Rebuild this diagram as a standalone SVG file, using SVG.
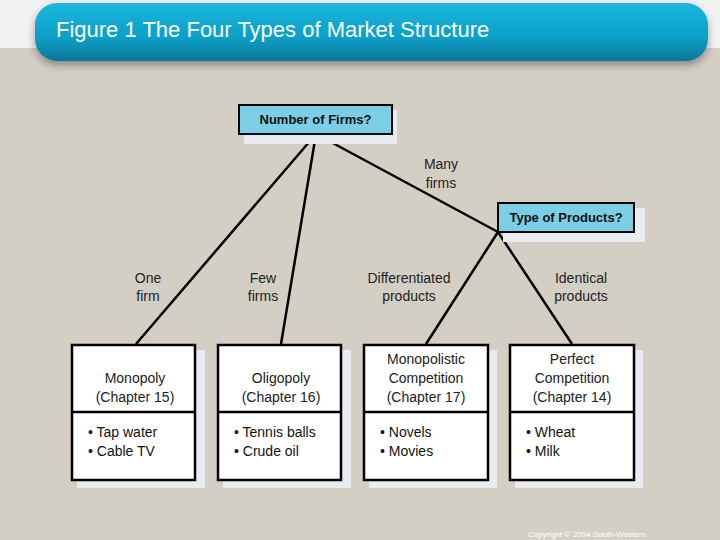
<svg xmlns="http://www.w3.org/2000/svg" width="720" height="540" viewBox="0 0 720 540">
<defs>
<linearGradient id="tg" x1="0" y1="0" x2="0" y2="1"><stop offset="0" stop-color="#1cb6de"/><stop offset="0.6" stop-color="#0a9fc6"/><stop offset="1" stop-color="#06779a"/></linearGradient>
<filter id="sh" x="-5%" y="-20%" width="110%" height="160%"><feDropShadow dx="0" dy="4" stdDeviation="4" flood-color="#000" flood-opacity="0.35"/></filter>
</defs>
<style>
.lbl{font-family:"Liberation Sans",Arial,sans-serif;font-size:14px;fill:#222;text-anchor:middle}
.it{font-family:"Liberation Sans",Arial,sans-serif;font-size:14px;fill:#111}
.q{font-family:"Liberation Sans",Arial,sans-serif;font-size:13px;font-weight:bold;fill:#111;text-anchor:middle}
.box{fill:#fff;stroke:#000;stroke-width:2.5}
.shd{fill:#e9ebf1}
.qb{fill:#7ccde6;stroke:#000;stroke-width:2}
.ln{stroke:#000;stroke-width:2.5;fill:none}
</style>
<rect width="720" height="540" fill="#d4cfc5"/>
<rect width="720" height="48" fill="#f2f2f2"/>
<rect x="35" y="3" width="673" height="58" rx="22" fill="url(#tg)" filter="url(#sh)"/>
<text x="56" y="37" font-family="Liberation Sans,Arial,sans-serif" font-size="22" fill="#fff">Figure 1 The Four Types of Market Structure</text>
<g id="connectors">
<path class="ln" d="M316 134 L136 344 M316 134 L281 344 M316 134 L498 232 M498 232 L426 344 M498 232 L572 344"/>
</g>
<g id="q1"><rect x="244" y="110" width="153" height="34" class="shd"/><rect x="239" y="105" width="153" height="29" class="qb"/><text x="315.5" y="124" class="q">Number of Firms?</text></g>
<g id="q2"><rect x="503" y="208" width="142" height="34" class="shd"/><rect x="498" y="203" width="136" height="29" class="qb"/><text x="566" y="222" class="q">Type of Products?</text></g>
<g id="labels">
<text class="lbl" x="441" y="169">Many</text><text class="lbl" x="441" y="188">firms</text>
<text class="lbl" x="148" y="283">One</text><text class="lbl" x="148" y="301">firm</text>
<text class="lbl" x="263" y="283">Few</text><text class="lbl" x="263" y="301">firms</text>
<text class="lbl" x="409" y="283">Differentiated</text><text class="lbl" x="409" y="301">products</text>
<text class="lbl" x="581" y="283">Identical</text><text class="lbl" x="581" y="301">products</text>
</g>
<g id="monopoly"><rect x="77" y="350" width="128" height="138" class="shd"/><rect x="72" y="345" width="123" height="135" class="box"/><line x1="72" y1="412" x2="195" y2="412" class="ln"/>
<text class="lbl" x="135" y="383">Monopoly</text><text class="lbl" x="135" y="402">(Chapter 15)</text>
<text class="it" x="88" y="437">• Tap water</text><text class="it" x="88" y="456">• Cable TV</text></g>
<g id="oligopoly"><rect x="223" y="350" width="128" height="138" class="shd"/><rect x="218" y="345" width="123" height="135" class="box"/><line x1="218" y1="412" x2="341" y2="412" class="ln"/>
<text class="lbl" x="281" y="383">Oligopoly</text><text class="lbl" x="281" y="402">(Chapter 16)</text>
<text class="it" x="234" y="437">• Tennis balls</text><text class="it" x="234" y="456">• Crude oil</text></g>
<g id="monopolistic"><rect x="369" y="350" width="128" height="138" class="shd"/><rect x="364" y="345" width="124" height="135" class="box"/><line x1="364" y1="412" x2="488" y2="412" class="ln"/>
<text class="lbl" x="426" y="364">Monopolistic</text><text class="lbl" x="426" y="383">Competition</text><text class="lbl" x="426" y="402">(Chapter 17)</text>
<text class="it" x="380" y="437">• Novels</text><text class="it" x="380" y="456">• Movies</text></g>
<g id="perfect"><rect x="515" y="350" width="128" height="138" class="shd"/><rect x="510" y="345" width="124" height="135" class="box"/><line x1="510" y1="412" x2="634" y2="412" class="ln"/>
<text class="lbl" x="572" y="364">Perfect</text><text class="lbl" x="572" y="383">Competition</text><text class="lbl" x="572" y="402">(Chapter 14)</text>
<text class="it" x="526" y="437">• Wheat</text><text class="it" x="526" y="456">• Milk</text></g>
<text x="587" y="537" font-family="Liberation Sans,Arial,sans-serif" font-size="8" fill="#fff" text-anchor="middle">Copyright © 2004  South-Western</text>
</svg>
